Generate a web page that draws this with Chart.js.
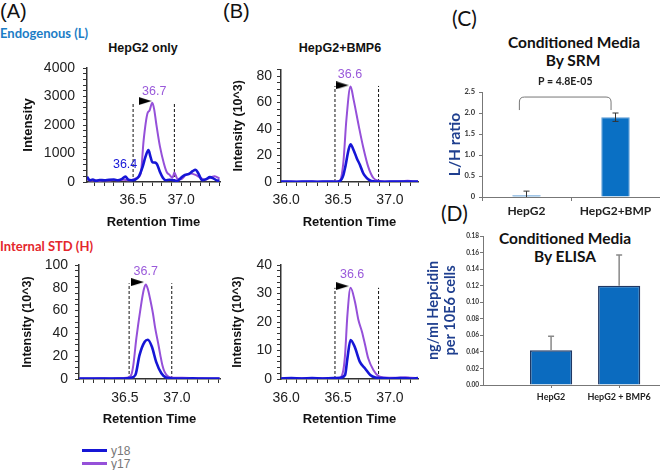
<!DOCTYPE html>
<html>
<head>
<meta charset="utf-8">
<script src="https://cdn.jsdelivr.net/npm/chart.js@4.4.1/dist/chart.umd.min.js"></script>
<style>
body { margin: 0; background: #fff; }
#page { position: relative; width: 660px; height: 470px; overflow: hidden; font-family: "Liberation Sans", Arial, sans-serif; color: #111; }
canvas { position: absolute; }
.l { position: absolute; transform: translateY(-50%); line-height: 1; white-space: nowrap; }
.c { position: absolute; transform: translate(-50%, -50%); line-height: 1; white-space: nowrap; }
.cal { font-family: Lato, "Open Sans", sans-serif; font-weight: bold; }
.sw { position: absolute; width: 25px; height: 3px; }
</style>
</head>
<body>
<div id="page">
  <div class="l" style="left:0;top:11px;font-size:20px">(A)</div>
  <div class="l" style="left:223px;top:11px;font-size:20px">(B)</div>
  <div class="l cal" style="left:452px;top:17px;font-size:21px;font-weight:normal">(C)</div>
  <div class="l cal" style="left:441px;top:212px;font-size:21px;font-weight:normal">(D)</div>

  <div class="l cal" style="left:0;top:33px;font-size:13px;color:#1b7dc6">Endogenous (L)</div>
  <div class="l cal" style="left:0;top:246px;font-size:13px;color:#e4262c">Internal STD (H)</div>
  <div class="c" style="left:143px;top:48px;font-size:12.5px;font-weight:bold">HepG2 only</div>
  <div class="c" style="left:340px;top:48px;font-size:12.5px;font-weight:bold">HepG2+BMP6</div>

  <div class="c cal" style="left:574px;top:43px;font-size:15.5px">Conditioned Media</div>
  <div class="c cal" style="left:573px;top:61px;font-size:15.5px">By SRM</div>
  <div class="c cal" style="left:565px;top:239px;font-size:15.5px">Conditioned Media</div>
  <div class="c cal" style="left:565px;top:257px;font-size:15.5px">By ELISA</div>

  <div class="sw" style="left:82px;top:449px;background:#1616d6"></div>
  <div class="l" style="left:111px;top:451px;font-size:12px;color:#777">y18</div>
  <div class="sw" style="left:82px;top:462px;background:#9550d9"></div>
  <div class="l" style="left:111px;top:464px;font-size:12px;color:#777">y17</div>

  <canvas id="chartA1"></canvas>
  <canvas id="chartB1"></canvas>
  <canvas id="chartA2"></canvas>
  <canvas id="chartB2"></canvas>
  <canvas id="chartC"></canvas>
  <canvas id="chartD"></canvas>
</div>
<script>
// ---- (A) HepG2 only, endogenous (counts) ----
var rtA1_y18  = [36.02,36.05,36.08,36.11,36.15,36.2,36.25,36.3,36.34,36.38,36.42,36.45,36.48,36.52,36.56,36.6,36.63,36.66,36.68,36.7,36.73,36.75,36.78,36.81,36.84,36.88,36.92,36.96,37.0,37.04,37.08,37.12,37.15,37.18,37.22,37.26,37.3,37.34,37.38,37.4];
var intA1_y18 = [180,60,90,40,70,60,80,90,60,100,190,80,60,80,200,540,900,1120,900,700,680,620,350,150,60,80,60,40,150,250,280,380,430,300,60,100,170,120,50,60];
var rtA1_y17  = [36.02,36.06,36.1,36.15,36.2,36.25,36.3,36.35,36.4,36.45,36.5,36.54,36.58,36.61,36.65,36.67,36.7,36.72,36.74,36.78,36.82,36.85,36.88,36.91,36.93,36.96,37.0,37.05,37.1,37.15,37.2,37.25,37.3,37.35,37.4];
var intA1_y17 = [100,50,60,40,60,50,70,60,80,60,80,150,300,1470,2410,2500,2780,2540,2070,1240,660,350,250,150,330,120,100,250,300,250,150,80,150,200,120];

// ---- (B) HepG2+BMP6, endogenous (10^3) ----
var rtB1_y18  = [35.95,36.0,36.1,36.2,36.3,36.4,36.48,36.52,36.55,36.57,36.6,36.62,36.65,36.68,36.71,36.74,36.76,36.79,36.82,36.88,36.95,37.05,37.15,37.27];
var intB1_y18 = [0.4,0.3,0.2,0.3,0.2,0.3,0.2,0.8,5,11.6,24,28.5,24,18,13,7,4.5,2,0.8,0.3,0.2,0.4,0.3,0.3];
var rtB1_y17  = [35.95,36.05,36.15,36.25,36.35,36.45,36.51,36.55,36.58,36.62,36.65,36.7,36.74,36.79,36.84,36.89,36.95,37.05,37.12,37.17,37.22,37.27];
var intB1_y17 = [0.2,0.3,0.2,0.3,0.2,0.3,0.5,14,47,72,62,42,27,11.6,3,1,0.4,0.3,0.6,1,0.4,0.3];

// ---- (A) HepG2 only, internal STD (10^3) ----
var rtA2_y18  = [36.06,36.15,36.25,36.35,36.45,36.52,36.56,36.6,36.64,36.69,36.72,36.76,36.8,36.85,36.9,36.95,37.05,37.15,37.25,37.35,37.41];
var intA2_y18 = [0.3,0.4,0.3,0.5,0.4,0.6,1.2,3.5,21,32.7,34.4,28,15,5,1,0.5,0.4,0.6,0.3,0.4,0.3];
var rtA2_y17  = [36.06,36.15,36.25,36.35,36.45,36.52,36.56,36.58,36.61,36.65,36.68,36.7,36.72,36.74,36.77,36.79,36.82,36.84,36.86,36.88,36.92,36.96,37.05,37.15,37.25,37.35,37.41];
var intA2_y17 = [0.5,0.4,0.6,0.5,0.8,1,3.5,12,36,62,78,83,79,71,57,45,31,21,12,6.4,1.8,1.2,1,0.8,0.6,0.5,0.4];

// ---- (B) HepG2+BMP6, internal STD (10^3) ----
var rtB2_y18  = [35.95,36.05,36.15,36.25,36.35,36.45,36.52,36.567,36.59,36.62,36.66,36.71,36.76,36.81,36.86,36.92,37.0,37.1,37.2,37.27];
var intB2_y18 = [0.2,0.3,0.2,0.3,0.2,0.3,0.4,1.4,7.3,13.7,11.3,6,3.7,1.4,0.5,0.3,0.2,0.3,0.2,0.3];
var rtB2_y17  = [35.95,36.05,36.15,36.25,36.35,36.45,36.52,36.55,36.567,36.59,36.62,36.663,36.696,36.73,36.76,36.79,36.84,36.89,36.95,37.05,37.15,37.2,37.27];
var intB2_y17 = [0.3,0.2,0.3,0.2,0.3,0.2,0.5,3,8.4,22.5,32,27,20.7,16.6,12,7.3,3.2,1,0.5,0.4,0.6,0.4,0.3];

// integration window [start, end, height], arrow [rt, y], peak tags [series, text, rt, y]
var cutA1 = [36.5, 36.93, 2800];   var arrowA1 = [36.625, 2840];
var tagsA1 = [['y17', '36.7', 36.72, 3190], ['y18', '36.4', 36.417, 600]];
var cutB1 = [36.47, 36.89, 72.5];  var arrowB1 = [36.54, 73];
var tagsB1 = [['y17', '36.6', 36.615, 80.8]];
var cutA2 = [36.54, 36.95, 84];    var arrowA2 = [36.62, 85];
var tagsA2 = [['y17', '36.7', 36.70, 94]];
var cutB2 = [36.47, 36.89, 32];    var arrowB2 = [36.54, 32.6];
var tagsB2 = [['y17', '36.6', 36.635, 36.5]];

// ---- (C) SRM ----
var catsC = ['HepG2', 'HepG2+BMP'];
var ratioC = [0.04, 1.9];
var errC = [0.1, 0.1];
var bracketC = [-0.08, 0.95];
var bracketLevelsC = [2.38, 2.07];
var pTextC = ['P = 4.8E-05', 2.74];

// ---- (D) ELISA ----
var catsD = ['HepG2', 'HepG2 + BMP6'];
var elisaD = [0.042, 0.12];
var errD = [0.017, 0.037];

Chart.defaults.font.family = '"Liberation Sans", Arial, sans-serif';
Chart.defaults.color = '#222';
Chart.defaults.animation = false;
Chart.defaults.plugins.legend.display = false;
Chart.defaults.plugins.tooltip.enabled = false;

var BLUE = '#1616d6', PURPLE = '#9550d9', PURPLE_TXT = '#9a5ada';
var CAL = 'Lato, "Open Sans", sans-serif';

// black arrow head used at the start of each window
var arrowImg = document.createElement('canvas');
arrowImg.width = 13; arrowImg.height = 8;
(function () {
    var a = arrowImg.getContext('2d');
    a.fillStyle = '#000';
    a.beginPath(); a.moveTo(0, 0); a.lineTo(13, 4); a.lineTo(0, 8); a.closePath(); a.fill();
})();

function xy(xs, ys) {
    return xs.map(function (x, i) { return {x: x, y: ys[i]}; });
}

function place(id, g) {
    var c = document.getElementById(id);
    c.width = g.w; c.height = g.h;
    c.style.left = g.left + 'px'; c.style.top = g.top + 'px';
    return c;
}

function stepTicks(min, max, step) {
    return function (scale) {
        var t = [];
        for (var k = Math.ceil(min / step - 1e-6); k * step <= max + 1e-9; k++) {
            t.push({value: +(k * step).toFixed(4)});
        }
        scale.ticks = t;
    };
}

function majorLabel(major, digits) {
    return function (v) {
        var q = v / major;
        return Math.abs(q - Math.round(q)) < 1e-6 ? v.toFixed(digits) : '';
    };
}

function tagPlugin(items) {
    return {
        id: 'peakTags',
        afterDatasetsDraw: function (chart) {
            var ctx = chart.ctx, xs = chart.scales.x, ys = chart.scales.y;
            ctx.save();
            ctx.font = '12.5px "Liberation Sans", Arial, sans-serif';
            ctx.textAlign = 'center';
            ctx.textBaseline = 'middle';
            items.forEach(function (t) {
                ctx.fillStyle = t[0] === 'y18' ? BLUE : PURPLE_TXT;
                ctx.fillText(t[1], xs.getPixelForValue(t[2]), ys.getPixelForValue(t[3]));
            });
            ctx.restore();
        }
    };
}

function chromatogram(id, g, s) {
    var lhX = 13 * 1.2, lhY = s.ySize * 1.2;
    g.h = Math.ceil(g.xTitleY + lhX / 2 - g.top);
    var canvas = place(id, g);
    var dash = {borderColor: '#111', borderWidth: 1, borderDash: [3, 2], cubicInterpolationMode: 'default', tension: 0};
    return new Chart(canvas, {
        type: 'line',
        data: {
            datasets: [
                {label: 'y18', data: xy(s.rt18, s.v18), borderColor: BLUE, borderWidth: 2.6},
                {label: 'y17', data: xy(s.rt17, s.v17), borderColor: PURPLE, borderWidth: 2},
                Object.assign({data: [{x: s.cut[0], y: 0}, {x: s.cut[0], y: s.cut[2]}]}, dash),
                Object.assign({data: [{x: s.cut[1], y: 0}, {x: s.cut[1], y: s.cut[2]}]}, dash),
                {data: [{x: s.arrow[0], y: s.arrow[1]}], showLine: false, pointStyle: arrowImg, pointRadius: 6}
            ]
        },
        options: {
            responsive: false,
            layout: {padding: {left: 0, top: g.t - g.top, right: g.left + g.w - g.r, bottom: 0}},
            elements: {point: {radius: 0}, line: {cubicInterpolationMode: 'monotone'}},
            scales: {
                x: {
                    type: 'linear', min: s.x[0], max: s.x[1],
                    afterFit: function (sc) { sc.height = g.top + g.h - g.b; },
                    afterBuildTicks: stepTicks(s.x[0], s.x[1], 0.1),
                    ticks: {autoSkip: false, maxRotation: 0, minRotation: 0, padding: g.xPad,
                            font: {size: 14}, color: '#222', callback: majorLabel(0.5, 1)},
                    grid: {drawOnChartArea: false, tickLength: 4, color: '#333'},
                    border: {color: '#333', width: 1.5},
                    title: {display: true, text: 'Retention Time', color: '#111',
                            font: {size: 13, weight: 'bold'},
                            padding: {top: 0, bottom: g.top + g.h - g.xTitleY - lhX / 2}}
                },
                y: {
                    min: 0, max: s.y[0],
                    afterFit: function (sc) { sc.width = g.l - g.left; },
                    afterBuildTicks: stepTicks(0, s.y[0], s.y[1]),
                    ticks: {autoSkip: false, padding: g.yPad, font: {size: 14}, color: '#222',
                            callback: majorLabel(s.y[2], 0)},
                    grid: {drawOnChartArea: false, tickLength: 4, color: '#333'},
                    border: {color: '#333', width: 1.5},
                    title: {display: true, text: s.yTitle, color: '#111',
                            font: {size: s.ySize, weight: 'bold'},
                            padding: {top: g.yTitleX - g.left - lhY / 2, bottom: 0}}
                }
            }
        },
        plugins: [tagPlugin(s.tags)]
    });
}

chromatogram('chartA1',
    {left: 0, top: 48, w: 232, l: 87, t: 68, r: 220, b: 182, xTitleY: 222.5, yTitleX: 28, xPad: 5.6, yPad: 8},
    {x: [36.02, 37.405], y: [4000, 200, 1000], yTitle: 'Intensity', ySize: 13,
     rt18: rtA1_y18, v18: intA1_y18, rt17: rtA1_y17, v17: intA1_y17,
     cut: cutA1, arrow: arrowA1, tags: tagsA1});

chromatogram('chartB1',
    {left: 222, top: 48, w: 208, l: 281, t: 69.4, r: 418, b: 182, xTitleY: 222.5, yTitleX: 239, xPad: 5.6, yPad: 5},
    {x: [35.95, 37.27], y: [85, 5, 20], yTitle: 'Intensity (10^3)', ySize: 12.5,
     rt18: rtB1_y18, v18: intB1_y18, rt17: rtB1_y17, v17: intB1_y17,
     cut: cutB1, arrow: arrowB1, tags: tagsB1});

chromatogram('chartA2',
    {left: 0, top: 245, w: 232, l: 79, t: 265, r: 220, b: 379, xTitleY: 419, yTitleX: 28, xPad: 6.6, yPad: 7},
    {x: [36.058, 37.414], y: [100, 5, 20], yTitle: 'Intensity (10^3)', ySize: 12.5,
     rt18: rtA2_y18, v18: intA2_y18, rt17: rtA2_y17, v17: intA2_y17,
     cut: cutA2, arrow: arrowA2, tags: tagsA2});

chromatogram('chartB2',
    {left: 222, top: 245, w: 208, l: 281, t: 265, r: 418, b: 379, xTitleY: 419, yTitleX: 238, xPad: 6.6, yPad: 5},
    {x: [35.95, 37.27], y: [40, 2, 10], yTitle: 'Intensity (10^3)', ySize: 12.5,
     rt18: rtB2_y18, v18: intB2_y18, rt17: rtB2_y17, v17: intB2_y17,
     cut: cutB2, arrow: arrowB2, tags: tagsB2});

function errorBars(color, width, cap, twoSided) {
    return {
        id: 'errorBars',
        afterDatasetsDraw: function (chart) {
            var ctx = chart.ctx, ys = chart.scales.y;
            var ds = chart.data.datasets[0];
            ctx.save();
            ctx.strokeStyle = color;
            ctx.lineWidth = width;
            chart.getDatasetMeta(0).data.forEach(function (bar, i) {
                var raw = ds.data[i], v = typeof raw === 'object' ? raw.y : raw;
                var top = ys.getPixelForValue(v + ds.errUp[i]);
                var bot = ys.getPixelForValue(twoSided ? Math.max(0, v - ds.errUp[i]) : v);
                ctx.beginPath();
                ctx.moveTo(bar.x, bot); ctx.lineTo(bar.x, top);
                ctx.moveTo(bar.x - cap, top); ctx.lineTo(bar.x + cap, top);
                if (twoSided && v - ds.errUp[i] > 0) {
                    ctx.moveTo(bar.x - cap, bot); ctx.lineTo(bar.x + cap, bot);
                }
                ctx.stroke();
            });
            ctx.restore();
        }
    };
}

var bracket = {
    id: 'bracket',
    afterDraw: function (chart) {
        var ctx = chart.ctx, xs = chart.scales.x, ys = chart.scales.y;
        var x0 = xs.getPixelForValue(bracketC[0]), x1 = xs.getPixelForValue(bracketC[1]);
        var yTop = ys.getPixelForValue(bracketLevelsC[0]), yFoot = ys.getPixelForValue(bracketLevelsC[1]);
        var r = 5;
        ctx.save();
        ctx.strokeStyle = '#777';
        ctx.lineWidth = 1;
        ctx.beginPath();
        ctx.moveTo(x0, yFoot);
        ctx.lineTo(x0, yTop + r);
        ctx.quadraticCurveTo(x0, yTop, x0 + r, yTop);
        ctx.lineTo(x1 - r, yTop);
        ctx.quadraticCurveTo(x1, yTop, x1, yTop + r);
        ctx.lineTo(x1, yFoot);
        ctx.stroke();
        ctx.font = 'bold 10.5px ' + CAL;
        ctx.fillStyle = '#222';
        ctx.textAlign = 'center';
        ctx.textBaseline = 'middle';
        ctx.fillText(pTextC[0], (x0 + x1) / 2, ys.getPixelForValue(pTextC[1]));
        ctx.restore();
    }
};

// (C) L/H ratio by SRM
(function () {
    var g = {left: 420, top: 70, w: 240, h: 150, l: 482, t: 92, r: 660, b: 197};
    var canvas = place('chartC', g);
    new Chart(canvas, {
        type: 'bar',
        data: {
            labels: catsC,
            datasets: [{data: ratioC, errUp: errC, backgroundColor: '#0a70c4', borderColor: '#5b9bd5',
                        borderWidth: 1, categoryPercentage: 1, barPercentage: 0.32}]
        },
        options: {
            responsive: false,
            layout: {padding: {left: 0, top: g.t - g.top, right: g.left + g.w - g.r, bottom: 0}},
            scales: {
                x: {
                    afterFit: function (sc) { sc.height = g.top + g.h - g.b; },
                    ticks: {padding: 3, font: {family: CAL, size: 12, weight: 'bold'}, color: '#222'},
                    grid: {drawOnChartArea: false, tickLength: 4, color: '#777'},
                    border: {color: '#777', width: 1}
                },
                y: {
                    min: 0, max: 2.5,
                    afterFit: function (sc) { sc.width = g.l - g.left; },
                    ticks: {stepSize: 0.5, padding: 4, font: {family: CAL, size: 7.5, weight: 'bold'}, color: '#333'},
                    grid: {drawOnChartArea: false, tickLength: 3, color: '#777'},
                    border: {color: '#777', width: 1},
                    title: {display: true, text: 'L/H ratio', color: '#1f3f8f',
                            font: {family: CAL, size: 15.5, weight: 'bold'},
                            padding: {top: 455 - g.left - 9.3, bottom: 0}}
                }
            }
        },
        plugins: [errorBars('#333', 1, 3, true), bracket]
    });
})();

// (D) hepcidin by ELISA
(function () {
    var g = {left: 420, top: 225, w: 240, h: 185, l: 483, t: 236, r: 660, b: 385};
    var canvas = place('chartD', g);
    new Chart(canvas, {
        type: 'bar',
        data: {
            datasets: [{data: elisaD.map(function (v, i) { return {x: i + 1, y: v}; }), errUp: errD,
                        backgroundColor: '#0b6bbf', borderColor: '#1f3864', borderWidth: 1.5,
                        categoryPercentage: 1, barPercentage: 0.62}]
        },
        options: {
            responsive: false,
            layout: {padding: {left: 0, top: g.t - g.top, right: g.left + g.w - g.r, bottom: 0}},
            scales: {
                x: {
                    type: 'linear', min: 0, max: 2.6, offset: false,
                    afterFit: function (sc) { sc.height = g.top + g.h - g.b; },
                    afterBuildTicks: function (sc) { sc.ticks = [{value: 1}, {value: 2}]; },
                    ticks: {autoSkip: false, maxRotation: 0, padding: 3.9,
                            font: {family: CAL, size: 9, weight: 'bold'}, color: '#222',
                            callback: function (v) { return catsD[Math.round(v) - 1]; }},
                    grid: {offset: false, drawOnChartArea: false, tickLength: 3, color: '#777'},
                    border: {color: '#777', width: 1}
                },
                y: {
                    min: 0, max: 0.18,
                    afterFit: function (sc) { sc.width = g.l - g.left; },
                    ticks: {stepSize: 0.02, padding: 1, font: {family: CAL, size: 6.5, weight: 'bold'}, color: '#333',
                            callback: function (v) { return v.toFixed(2); }},
                    grid: {drawOnChartArea: false, tickLength: 3, color: '#777'},
                    border: {color: '#777', width: 1},
                    title: {display: true, text: ['ng/ml Hepcidin', 'per 10E6 cells'], color: '#1f3f8f',
                            font: {family: CAL, size: 14.5, weight: 'bold'},
                            padding: {top: 433 - g.left - 8.7, bottom: 0}}
                }
            }
        },
        plugins: [errorBars('#888', 1.5, 3, false)]
    });
})();
</script>
</body>
</html>
